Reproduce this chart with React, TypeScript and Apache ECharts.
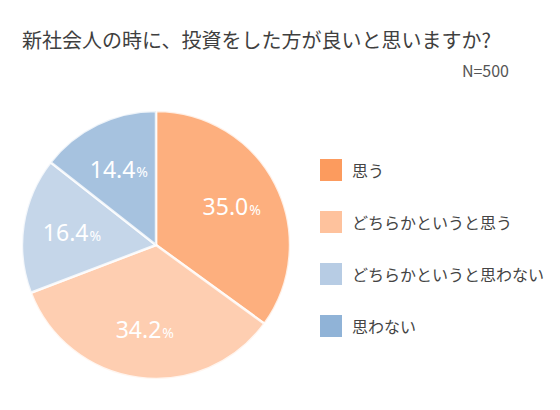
import { useEffect, useRef } from 'react'
import * as echarts from 'echarts'

const categories = ['思う', 'どちらかというと思う', 'どちらかというと思わない', '思わない']
const shares = [35.0, 34.2, 16.4, 14.4]
const colors = ['#fc9b5e', '#fec29d', '#b7cce4', '#90b3d7']
const titleText = '新社会人の時に、投資をした方が良いと思いますか?'
const sampleText = 'N=500'

const FONT = '"Noto Sans CJK JP", "Noto Sans", sans-serif'

function App() {
  const chartRef = useRef<HTMLDivElement | null>(null)

  useEffect(() => {
    document.body.style.margin = '0'
    if (!chartRef.current) {
      return undefined
    }

    const chart = echarts.init(chartRef.current, undefined, { renderer: 'svg' })
    const pieData = categories.map((name, i) => ({
      name,
      value: shares[i],
      itemStyle: { color: colors[i] },
    }))

    const option: echarts.EChartsOption = {
      animation: false,
      backgroundColor: '#ffffff',
      title: [
        {
          text: titleText,
          left: 17,
          top: 24,
          textStyle: { fontFamily: FONT, fontSize: 20, fontWeight: 'normal', color: '#3f3f3f' },
        },
        {
          text: sampleText,
          right: 46,
          top: 57,
          textStyle: { fontFamily: FONT, fontSize: 16, fontWeight: 'normal', color: '#555555' },
        },
      ],
      legend: {
        orient: 'vertical',
        left: 318,
        top: 157,
        padding: 0,
        itemWidth: 24,
        itemHeight: 24,
        itemGap: 26,
        icon: 'rect',
        selectedMode: false,
        data: categories.map((name, i) => ({ name, itemStyle: { color: colors[i], opacity: 1 } })),
        textStyle: { fontFamily: FONT, fontSize: 16, color: '#444444', padding: [0, 0, 0, 4] },
      },
      series: [
        {
          type: 'pie',
          center: [156, 245],
          radius: [0, 134],
          startAngle: 90,
          silent: true,
          itemStyle: { opacity: 0.8, borderColor: '#ffffff', borderWidth: 2.5 },
          label: { show: false },
          labelLine: { show: false },
          data: pieData,
        },
        {
          type: 'pie',
          center: [156, 245],
          radius: [30, 134],
          startAngle: 90,
          silent: true,
          itemStyle: { color: 'rgba(0,0,0,0)' },
          label: {
            show: true,
            position: 'inside',
            formatter: (p: any) => `{v|${p.value.toFixed(1)}}{p|%}`,
            rich: {
              v: { fontFamily: '"Noto Sans", sans-serif', fontSize: 23, color: '#ffffff' },
              p: { fontFamily: '"Noto Sans", sans-serif', fontSize: 14, color: '#ffffff', padding: [6, 0, 0, 1] },
            },
          },
          labelLine: { show: false },
          data: categories.map((name, i) => ({ name, value: shares[i] })),
        },
      ],
    }

    chart.setOption(option)

    const handleResize = () => chart.resize()
    window.addEventListener('resize', handleResize)

    return () => {
      window.removeEventListener('resize', handleResize)
      chart.dispose()
    }
  }, [])

  return <div ref={chartRef} style={{ width: 560, height: 410 }} />
}

export default App
